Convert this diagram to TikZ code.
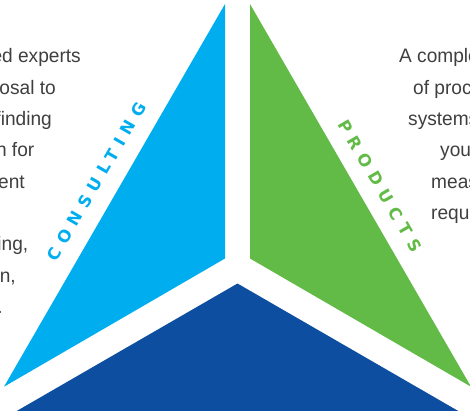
\documentclass[tikz,border=0pt]{standalone}
\usepackage{fontspec}
\setmainfont{Liberation Sans}[FakeStretch=0.98]
\newfontfamily\labelfont{DejaVu Sans}[LetterSpace=42]
\definecolor{cblue}{HTML}{00AEEF}
\definecolor{cgreen}{HTML}{62BB46}
\definecolor{cdark}{HTML}{0D4EA0}
\definecolor{textgray}{HTML}{3F3F3F}
\begin{document}
\begin{tikzpicture}[x=1pt,y=-1pt,
  body/.style={font=\fontsize{19.5}{23}\selectfont, text=textgray, inner sep=0pt},
  lline/.style={body, anchor=base east},
  rline/.style={body, anchor=base west},
  sidelabel/.style={font=\labelfont\bfseries\fontsize{16.5}{16.5}\selectfont, inner sep=0pt}]
\useasboundingbox (0,0) rectangle (470,411);
% triangles
\fill[cblue] (225,4) -- (225,258.5) -- (4,386.7) -- cycle;
\fill[cgreen] (250,4) -- (250,258.5) -- (471,386.7) -- cycle;
\fill[cdark] (237.5,283.5) -- (458.3,411) -- (16.7,411) -- cycle;
% left text
\node[lline] (l1) at (81,63) {ed experts};
\node[lline] (l2) at (56,94.3) {osal to};
\node[lline] (l3) at (52,125.6) {finding};
\node[lline] (l4) at (34.5,156.9) {n for};
\node[lline] (l5) at (25,188.2) {ent};
\node[lline] (l6) at (28.5,250.8) {ing,};
\node[lline] (l7) at (16,282.1) {on,};
\node[lline] (l8) at (3,313.4) {.};
% right text
\node[rline] (r1) at (399,63) {A comple};
\node[rline] (r2) at (413,94.3) {of proc};
\node[rline] (r3) at (408,125.6) {systems};
\node[rline] (r4) at (440,156.9) {you};
\node[rline] (r5) at (431,188.2) {meas};
\node[rline] (r6) at (431,219.5) {requi};
% side labels
\node[sidelabel, text=cblue, rotate=60] (consulting) at (96.8,181.3) {CONSULTING};
\node[sidelabel, text=cgreen, rotate=-60] (products) at (380,186) {PRODUCTS};
\end{tikzpicture}
\end{document}
